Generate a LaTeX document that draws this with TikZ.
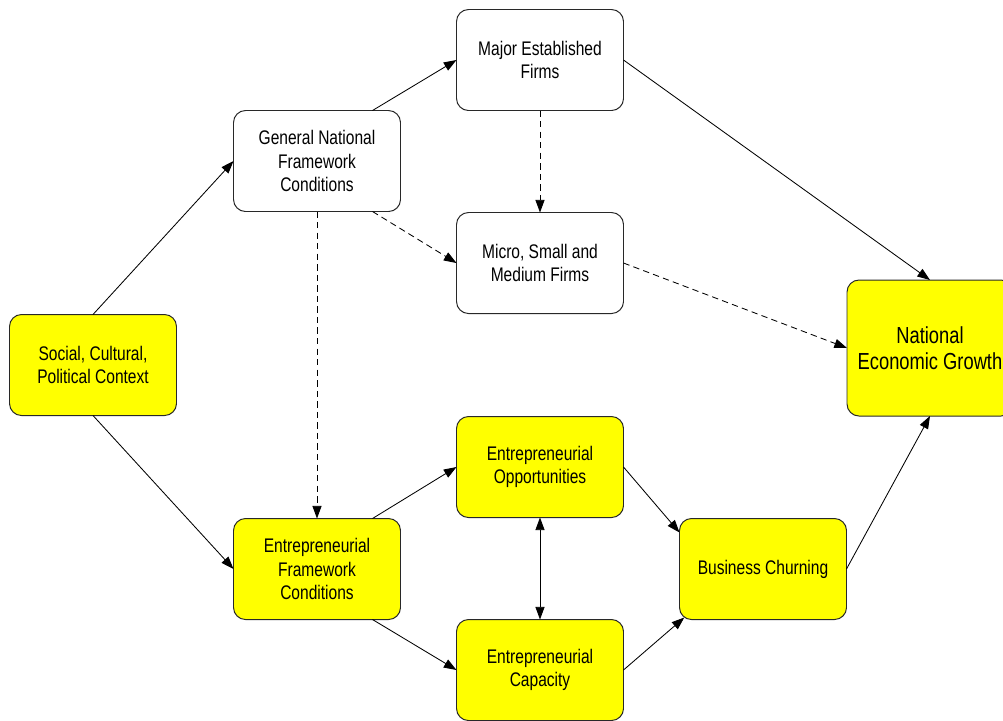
\documentclass[tikz,border=0pt]{standalone}
\usepackage{fontspec}
\setmainfont{Liberation Sans}[FakeStretch=0.79]
\usetikzlibrary{arrows.meta}
\definecolor{boxyellow}{RGB}{255,255,0}
\definecolor{boxline}{RGB}{40,40,40}
\begin{document}
\begin{tikzpicture}[
    box/.style = {draw = boxline, line width = 0.7pt, rounded corners = 0.3cm,
      minimum width = 4.175cm, minimum height = 2.525cm, inner sep = 0pt,
      outer sep = 0pt, align = center, font = \fontsize{14}{16.5}\selectfont},
    plain/.style = {box, fill = white},
    hot/.style = {box, fill = boxyellow},
    link/.style = {-{Triangle[length = 9pt, width = 6.5pt]}, line width = 0.6pt},
    both/.style = {{Triangle[length = 9pt, width = 6.5pt]}-{Triangle[length = 9pt, width = 6.5pt]},
      line width = 0.6pt},
    hint/.style = {link, dash pattern = on 4.5pt off 3pt}]
  \useasboundingbox (0, 0) rectangle (25.075, -18);
  \clip (0, 0) rectangle (25.075, -18);
  \node [hot] (social) at (2.325, -9.125) {Social, Cultural,\\Political Context};
  \node [plain] (general) at (7.925, -4.025) {General National\\Framework\\Conditions};
  \node [plain] (major) at (13.5, -1.5) {Major Established\\Firms};
  \node [plain] (micro) at (13.5, -6.575) {Micro, Small and\\Medium Firms};
  \node [hot, minimum width = 4.15cm, minimum height = 3.4cm,
    font = \fontsize{16.5}{18.5}\selectfont] (growth) at (23.25, -8.7)
    {National\\Economic Growth};
  \node [hot] (opp) at (13.5, -11.675) {Entrepreneurial\\Opportunities};
  \node [hot] (efc) at (7.925, -14.225) {Entrepreneurial\\Framework\\Conditions};
  \node [hot] (churn) at (19.075, -14.225) {Business Churning};
  \node [hot] (capac) at (13.5, -16.75) {Entrepreneurial\\Capacity};
  \draw [link] (social.north) -- (general.west);
  \draw [link] (social.south) -- (efc.west);
  \draw [link] ([xshift = -0.7cm]general.north east) -- (major.west);
  \draw [hint] ([xshift = -0.7cm]general.south east) -- (micro.west);
  \draw [hint] (general.south) -- (efc.north);
  \draw [hint] (major.south) -- (micro.north);
  \draw [link] (major.east) -- (growth.north);
  \draw [hint] (micro.east) -- (growth.west);
  \draw [link] ([xshift = -0.7cm]efc.north east) -- (opp.west);
  \draw [link] ([xshift = -0.7cm]efc.south east) -- (capac.west);
  \draw [both] (opp.south) -- (capac.north);
  \draw [link] (opp.east) -- ([yshift = -0.35cm]churn.north west);
  \draw [link] (capac.east) -- ([xshift = 0.12cm, yshift = 0.05cm]churn.south west);
  \draw [link] (churn.east) -- (growth.south);
\end{tikzpicture}
\end{document}
